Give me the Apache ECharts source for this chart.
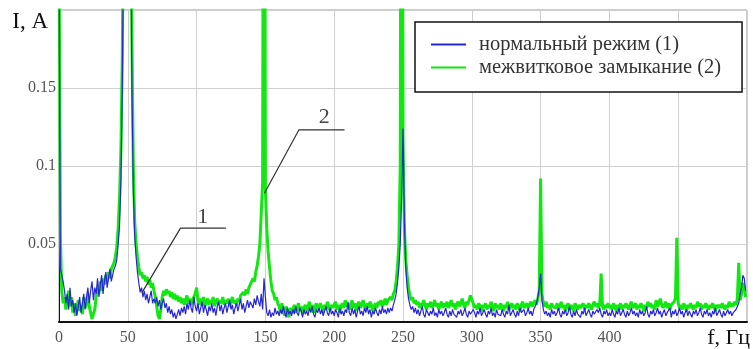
<!DOCTYPE html>
<html>
<head>
<meta charset="utf-8">
<script src="https://cdn.jsdelivr.net/npm/echarts@6/dist/echarts.min.js"></script>
<style>
html,body{margin:0;padding:0;background:#fff;overflow:hidden;}
#chart{width:753px;height:349px;}
</style>
</head>
<body>
<div id="chart"></div>
<script>
// Spectrum sampled at 1 Hz, starting at 0 Hz
const freqStart = 0;
const freqStep = 1;

// нормальный режим (1), I in A, f = 0..499 Hz
const normalMode = [
.25,.034,.03,.026,.02,.012,.018,.008,.022,.01,
.014,.006,.012,.004,.01,.016,.006,.012,.018,.008,
.016,.022,.012,.02,.026,.014,.022,.018,.028,.016,
.024,.03,.018,.026,.032,.022,.028,.034,.026,.03,
.034,.036,.04,.05,.062,.09,.15,.25,.5,.6,
.6,.45,.28,.15,.085,.055,.042,.032,.025,.019,
.022,.016,.02,.014,.018,.012,.016,.02,.012,.015,
.012,.016,.01,.014,.008,.012,.015,.009,.012,.006,
.01,.005,.008,.003,.006,.002,.005,.008,.004,.009,
.006,.01,.005,.012,.008,.014,.009,.006,.016,.01,
.007,.012,.005,.009,.013,.006,.011,.008,.004,.01,
.007,.012,.006,.009,.004,.01,.013,.007,.011,.005,
.009,.012,.006,.01,.014,.008,.011,.005,.009,.012,
.007,.011,.015,.008,.012,.006,.01,.014,.009,.013,
.012,.009,.015,.011,.017,.013,.01,.018,.008,.028,
.016,.006,.004,.008,.003,.006,.004,.009,.005,.007,
.004,.008,.005,.01,.006,.003,.009,.005,.007,.004,
.008,.005,.01,.006,.004,.009,.007,.003,.008,.005,
.007,.004,.009,.006,.01,.005,.003,.008,.006,.009,
.005,.008,.004,.007,.01,.006,.004,.009,.005,.007,
.004,.008,.006,.003,.009,.005,.007,.004,.008,.006,
.013,.006,.004,.009,.005,.008,.003,.007,.01,.005,
.007,.004,.009,.006,.01,.005,.008,.003,.007,.005,
.009,.006,.004,.008,.005,.01,.006,.008,.005,.009,
.006,.009,.007,.011,.014,.018,.025,.035,.05,.08,
.124,.065,.035,.022,.015,.011,.008,.01,.006,.009,
.005,.008,.004,.007,.01,.005,.003,.008,.006,.004,
.007,.005,.009,.004,.006,.003,.008,.005,.007,.004,
.006,.009,.005,.003,.007,.004,.008,.005,.006,.003,
.007,.005,.008,.004,.006,.009,.005,.003,.007,.005,
.004,.008,.006,.003,.007,.005,.009,.004,.006,.008,
.005,.003,.007,.005,.009,.004,.006,.003,.008,.005,
.006,.004,.008,.005,.003,.007,.005,.011,.004,.006,
.008,.005,.003,.007,.004,.009,.006,.005,.008,.004,
.006,.009,.005,.007,.004,.008,.01,.012,.016,.022,
.031,.014,.008,.005,.007,.004,.006,.003,.008,.005,
.007,.004,.006,.009,.005,.003,.007,.005,.008,.004,
.006,.01,.005,.003,.007,.004,.008,.005,.006,.003,
.007,.005,.009,.004,.006,.008,.005,.003,.007,.005,
.004,.008,.006,.009,.005,.003,.007,.005,.008,.004,
.006,.004,.008,.005,.003,.007,.005,.009,.004,.006,
.008,.005,.003,.007,.004,.006,.009,.005,.007,.004,
.006,.003,.008,.005,.007,.004,.006,.01,.005,.003,
.007,.005,.008,.004,.006,.009,.005,.007,.003,.006,
.008,.004,.006,.005,.009,.003,.007,.005,.008,.004,
.006,.009,.005,.007,.003,.006,.008,.004,.007,.005,
.003,.007,.005,.008,.004,.006,.009,.005,.003,.007,
.005,.008,.004,.006,.003,.007,.005,.009,.004,.006,
.008,.005,.003,.007,.004,.006,.008,.005,.007,.004,
.006,.005,.008,.007,.012,.018,.022,.03,.028,.02
];

// межвитковое замыкание (2), I in A, f = 0..499 Hz
const turnFault = [
.25,.055,.02,.012,.016,.008,.014,.02,.01,.016,
.006,.012,.004,.009,.014,.007,.011,.005,.016,.009,
.012,.018,.01,.006,.002,.003,.008,.016,.022,.018,
.026,.02,.028,.024,.03,.026,.032,.028,.034,.036,
.038,.042,.048,.06,.08,.11,.17,.28,.5,.6,
.6,.5,.32,.18,.1,.065,.05,.042,.035,.03,
.032,.028,.03,.026,.029,.024,.027,.022,.025,.02,
.016,.01,.004,.002,.008,.016,.02,.017,.021,.018,
.02,.016,.019,.015,.018,.014,.017,.013,.016,.012,
.015,.011,.014,.017,.012,.015,.011,.014,.013,.018,
.022,.014,.011,.015,.012,.016,.01,.013,.015,.011,
.014,.012,.016,.01,.013,.015,.011,.014,.012,.016,
.011,.014,.012,.015,.01,.013,.016,.012,.014,.011,
.015,.013,.017,.016,.019,.017,.021,.018,.022,.024,
.024,.028,.026,.032,.036,.042,.05,.07,.09,.6,
.085,.06,.045,.035,.026,.02,.018,.014,.016,.012,
.01,.006,.012,.008,.004,.01,.007,.003,.009,.006,
.008,.011,.006,.009,.012,.007,.01,.005,.009,.011,
.007,.01,.013,.008,.011,.006,.009,.012,.008,.01,
.012,.009,.006,.011,.008,.013,.01,.007,.011,.009,
.01,.013,.008,.011,.006,.01,.012,.009,.014,.01,
.012,.008,.011,.014,.009,.012,.007,.011,.013,.009,
.011,.014,.01,.008,.012,.009,.013,.011,.007,.01,
.012,.009,.013,.011,.014,.01,.012,.015,.011,.014,
.013,.016,.014,.018,.02,.026,.035,.05,.1,.6,
.12,.06,.04,.03,.022,.017,.014,.016,.012,.014,
.011,.013,.009,.012,.01,.014,.011,.008,.012,.01,
.013,.009,.011,.014,.01,.012,.008,.011,.013,.009,
.012,.01,.013,.009,.011,.014,.01,.012,.008,.011,
.013,.01,.012,.015,.011,.009,.013,.011,.014,.017,
.016,.012,.009,.011,.008,.012,.01,.007,.011,.009,
.012,.008,.011,.009,.013,.01,.007,.012,.009,.011,
.008,.012,.01,.007,.011,.009,.013,.008,.01,.012,
.009,.011,.008,.012,.01,.007,.011,.013,.009,.01,
.012,.009,.011,.013,.01,.012,.014,.011,.015,.02,
.092,.018,.012,.01,.013,.009,.011,.008,.012,.01,
.011,.009,.012,.008,.01,.013,.009,.011,.007,.01,
.012,.008,.011,.009,.007,.012,.01,.008,.011,.009,
.01,.012,.008,.011,.009,.012,.01,.008,.011,.013,
.01,.012,.009,.011,.031,.01,.008,.011,.009,.012,
.009,.011,.008,.012,.01,.007,.011,.009,.012,.008,
.011,.009,.012,.01,.008,.011,.013,.009,.01,.012,
.008,.011,.009,.012,.01,.007,.011,.009,.013,.01,
.012,.009,.011,.008,.014,.01,.012,.015,.011,.009,
.011,.013,.009,.012,.008,.011,.01,.013,.015,.054,
.012,.009,.011,.008,.012,.01,.007,.011,.009,.012,
.01,.008,.011,.009,.013,.01,.012,.008,.011,.009,
.012,.01,.008,.011,.009,.012,.01,.007,.011,.009,
.011,.009,.012,.01,.008,.011,.009,.013,.01,.012,
.01,.013,.011,.015,.038,.014,.018,.025,.022,.016
];

const seriesNames = ['нормальный режим (1)', 'межвитковое замыкание (2)'];
const xTickValues = [0, 50, 100, 150, 200, 250, 300, 350, 400];
const yTickValues = [0.05, 0.1, 0.15];

// Leader lines of the curve labels, in data units [f, I]
const leader1 = [[60.3, 0.0188], [88.3, 0.0602], [121.3, 0.0602]];
const leader2 = [[149.3, 0.0825], [174.4, 0.1232], [207.5, 0.1232]];
const curveLabels = [
  { name: '1', value: [104.5, 0.067] },
  { name: '2', value: [192.7, 0.131] }
];

function toPairs(arr) {
  return arr.map((v, i) => [freqStart + i * freqStep, v]);
}

const SERIF = '"Liberation Serif","Times New Roman",serif';
const chart = echarts.init(document.getElementById('chart'), null, { renderer: 'canvas' });

chart.setOption({
  animation: false,
  backgroundColor: '#fff',
  grid: { left: 59, top: 10, width: 697, height: 314.5, containLabel: false,
          show: true, borderColor: '#9a9a9a', borderWidth: 1, backgroundColor: 'transparent' },
  legend: {
    data: seriesNames,
    orient: 'vertical',
    left: 415,
    top: 22,
    backgroundColor: '#fff',
    borderColor: '#111',
    borderWidth: 1.5,
    borderRadius: 0,
    padding: [12, 21, 14, 15],
    itemGap: 2,
    itemWidth: 35,
    itemHeight: 14,
    itemStyle: { opacity: 0 },
    textStyle: { fontFamily: SERIF, fontSize: 20.5, color: '#333', lineHeight: 20, padding: [0, 0, 0, 8] }
  },
  xAxis: {
    type: 'value',
    min: 0, max: 500, interval: 50,
    name: 'f, Гц',
    nameLocation: 'end',
    nameGap: 3,
    nameTextStyle: { fontFamily: SERIF, fontSize: 22, color: '#111', align: 'right', verticalAlign: 'top', padding: [5, 0, 0, 0] },
    axisLine: { show: true, onZero: false, lineStyle: { color: '#111', width: 2 } },
    axisTick: { show: false },
    axisLabel: {
      fontFamily: SERIF, fontSize: 16, color: '#555', margin: 8,
      formatter: v => xTickValues.includes(v) ? String(v) : ''
    },
    splitLine: { show: true, lineStyle: { color: '#cfcfcf', width: 1 } }
  },
  yAxis: {
    type: 'value',
    min: 0, max: 0.2, interval: 0.05,
    name: 'I, A',
    nameLocation: 'end',
    nameGap: -12,
    nameTextStyle: { fontFamily: SERIF, fontSize: 23, color: '#111', align: 'right', verticalAlign: 'middle', padding: [0, 11, 0, 0] },
    axisLine: { show: true, lineStyle: { color: '#111', width: 1 } },
    axisTick: { show: false },
    axisLabel: {
      fontFamily: SERIF, fontSize: 16, color: '#555', margin: 3,
      formatter: v => yTickValues.some(t => Math.abs(t - v) < 1e-9) ? String(+v.toFixed(2)) : ''
    },
    splitLine: { show: true, lineStyle: { color: '#cfcfcf', width: 1 } }
  },
  series: [
    {
      name: seriesNames[1],
      type: 'line',
      data: toPairs(turnFault),
      symbol: 'none',
      clip: true,
      color: '#10e810',
      lineStyle: { color: '#10e810', width: 3 },
      itemStyle: { color: '#10e810' },
      z: 2
    },
    {
      name: seriesNames[0],
      type: 'line',
      data: toPairs(normalMode),
      symbol: 'none',
      clip: true,
      color: '#2626d6',
      lineStyle: { color: '#2626d6', width: 1.2 },
      itemStyle: { color: '#2626d6' },
      z: 3
    },
    {
      name: 'leader1',
      type: 'line',
      data: leader1,
      symbol: 'none',
      silent: true,
      lineStyle: { color: '#333', width: 1.2 },
      z: 5
    },
    {
      name: 'leader2',
      type: 'line',
      data: leader2,
      symbol: 'none',
      silent: true,
      lineStyle: { color: '#333', width: 1.2 },
      z: 5
    },
    {
      name: 'labels',
      type: 'scatter',
      data: curveLabels,
      symbolSize: 0,
      silent: true,
      label: {
        show: true, position: 'inside', formatter: p => p.name,
        fontFamily: SERIF, fontSize: 22, color: '#111'
      },
      z: 6
    }
  ]
});
</script>
</body>
</html>
